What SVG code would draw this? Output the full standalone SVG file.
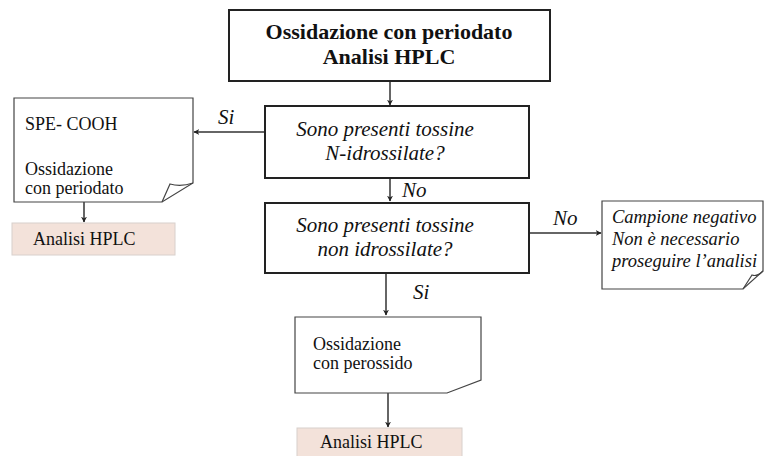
<svg xmlns="http://www.w3.org/2000/svg" width="765" height="456" viewBox="0 0 765 456">
<style>
.t{font-family:"Liberation Serif","Times New Roman",serif;fill:#111}
.b{font-weight:bold;font-size:22px}
.i{font-style:italic;font-size:21px}
.r{font-size:18px}
.ri{font-style:italic;font-size:18.5px}
.box{fill:#fff;stroke:#222;stroke-width:2}
.doc{fill:#fff;stroke:#444;stroke-width:1.2}
.fold{fill:none;stroke:#444;stroke-width:1.2}
.res{fill:#f3e2da;stroke:#d8d0cc;stroke-width:1}
.ln{fill:none;stroke:#333;stroke-width:1.5}
</style>
<defs>
<marker id="ah" viewBox="0 0 10 10" refX="9" refY="5" markerWidth="6" markerHeight="6" markerUnits="userSpaceOnUse" orient="auto">
<path d="M0,0 L10,5 L0,10 L3,5 Z" fill="#222"/>
</marker>
</defs>
<g id="connectors">
<line class="ln" x1="390" y1="81" x2="390" y2="105" marker-end="url(#ah)"/>
<line class="ln" x1="265" y1="132" x2="194" y2="132" marker-end="url(#ah)"/>
<line class="ln" x1="390" y1="178" x2="390" y2="201" marker-end="url(#ah)"/>
<line class="ln" x1="529" y1="233" x2="601" y2="233" marker-end="url(#ah)"/>
<line class="ln" x1="386" y1="273" x2="386" y2="315" marker-end="url(#ah)"/>
<line class="ln" x1="84" y1="202" x2="84" y2="222" marker-end="url(#ah)"/>
<line class="ln" x1="388" y1="393" x2="388" y2="427" marker-end="url(#ah)"/>
<text class="t i" x="218" y="124">Si</text>
<text class="t i" x="402" y="197">No</text>
<text class="t i" x="553" y="225">No</text>
<text class="t i" x="413" y="299">Si</text>
</g>
<g id="start">
<rect class="box" x="229" y="10" width="321" height="71"/>
<text class="t b" x="389" y="39" text-anchor="middle">Ossidazione con periodato</text>
<text class="t b" x="389" y="64" text-anchor="middle">Analisi HPLC</text>
</g>
<g id="q1">
<rect class="box" x="265" y="106" width="264" height="72"/>
<text class="t i" x="385" y="136" text-anchor="middle">Sono presenti tossine</text>
<text class="t i" x="385" y="160" text-anchor="middle">N-idrossilate?</text>
</g>
<g id="q2">
<rect class="box" x="265" y="203" width="264" height="70"/>
<text class="t i" x="385" y="232" text-anchor="middle">Sono presenti tossine</text>
<text class="t i" x="385" y="256" text-anchor="middle">non idrossilate?</text>
</g>
<g id="spe">
<path class="doc" d="M14,98 H193 V183 L162,202 H14 Z"/>
<path class="fold" d="M162,202 L170,184 Q181,187 193,183"/>
<text class="t r" x="25" y="130">SPE- COOH</text>
<text class="t r" x="25" y="175">Ossidazione</text>
<text class="t r" x="25" y="194">con periodato</text>
</g>
<g id="hplc1">
<rect class="res" x="12" y="223" width="163" height="32"/>
<text class="t r" x="33" y="245">Analisi HPLC</text>
</g>
<g id="negativo">
<path class="doc" d="M602,201 H763 V271 L743,289 H602 Z"/>
<path class="fold" d="M743,289 L752,275 Q757,277 763,271"/>
<text class="t ri" x="612" y="223">Campione negativo</text>
<text class="t ri" x="612" y="245">Non è necessario</text>
<text class="t ri" x="612" y="267">proseguire l’analisi</text>
</g>
<g id="perossido">
<path class="doc" d="M295,317 H481 V380 L447,393 H295 Z"/>
<text class="t r" x="313" y="350">Ossidazione</text>
<text class="t r" x="313" y="369">con perossido</text>
</g>
<g id="hplc2">
<rect class="res" x="297" y="428" width="165" height="32"/>
<text class="t r" x="320" y="448">Analisi HPLC</text>
</g>
</svg>
